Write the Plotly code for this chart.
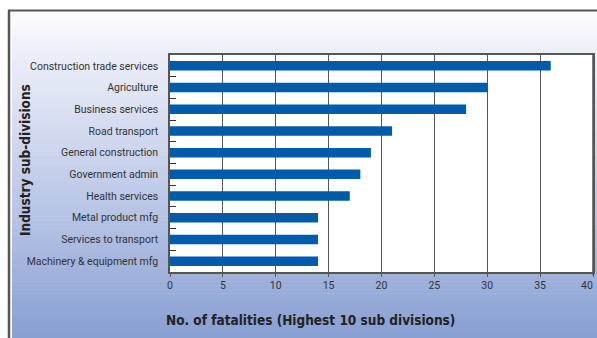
import plotly.graph_objects as go

# Highest 10 industry sub-divisions by number of fatalities
subdivisions = [
    "Construction trade services",
    "Agriculture",
    "Business services",
    "Road transport",
    "General construction",
    "Government admin",
    "Health services",
    "Metal product mfg",
    "Services to transport",
    "Machinery & equipment mfg",
]
fatalities = [36, 30, 28, 21, 19, 18, 17, 14, 14, 14]
x_ticks = [0, 5, 10, 15, 20, 25, 30, 35, 40]

W, H = 597, 338
L, R, T, B = 170, 4, 55, 66
pw, ph = W - L - R, H - T - B


def px_x(x):
    return (x - L) / pw


def px_y(y):
    return (H - B - y) / ph


fig = go.Figure()
fig.add_trace(go.Bar(
    x=fatalities,
    y=subdivisions,
    orientation="h",
    marker=dict(color="#005baa", line=dict(width=0)),
    width=0.44,
    hoverinfo="x+y",
))

# background panel: vertical gradient from near-white to soft blue
stops = [(13, (252, 252, 254)), (55, (236, 238, 248)), (130, (212, 219, 240)),
         (220, (180, 194, 228)), (338, (136, 159, 210))]
shapes = []
n = 80
y0p, y1p = 13, 338
for i in range(n):
    ya = y0p + (y1p - y0p) * i / n
    yb = y0p + (y1p - y0p) * (i + 1) / n
    ym = (ya + yb) / 2
    for (sa, ca), (sb, cb) in zip(stops[:-1], stops[1:]):
        if sa <= ym <= sb:
            t = (ym - sa) / (sb - sa)
            c = tuple(round(ca[k] + (cb[k] - ca[k]) * t) for k in range(3))
            break
    shapes.append(dict(
        type="rect", xref="paper", yref="paper", layer="below",
        x0=px_x(12), x1=px_x(W), y0=px_y(yb + 0.5), y1=px_y(ya),
        fillcolor="rgb(%d,%d,%d)" % c, line=dict(width=0),
    ))
# frame lines on the left and top of the panel
shapes.append(dict(type="line", xref="paper", yref="paper", layer="above",
                   x0=px_x(9), x1=px_x(9), y0=px_y(10.5), y1=px_y(H),
                   line=dict(color="#555555", width=2.5)))
shapes.append(dict(type="line", xref="paper", yref="paper", layer="above",
                   x0=px_x(8), x1=px_x(W), y0=px_y(10.5), y1=px_y(10.5),
                   line=dict(color="#555555", width=2)))
# plot-area white fill
shapes.append(dict(type="rect", xref="paper", yref="paper", layer="below",
                   x0=0, x1=1, y0=0, y1=1, fillcolor="white", line=dict(width=0)))
# right-hand edge of the plot area
shapes.append(dict(type="line", xref="paper", yref="paper", layer="above",
                   x0=1, x1=1, y0=px_y(H - B + 3), y1=1,
                   line=dict(color="#555555", width=1.5)))

tick_font = dict(family="Roboto, Liberation Sans, sans-serif",
                 size=10.5, color="#333333")
title_font = dict(family="DejaVu Sans Condensed, DejaVu Sans, sans-serif",
                  size=13.5, color="#222222")

# the last label is drawn right-aligned to its tick so it stays on the page
x_labels = [str(v) for v in x_ticks]
last_label = x_labels[-1]
x_labels[-1] = ""

fig.update_layout(
    width=W, height=H,
    margin=dict(l=L, r=R, t=T, b=B, pad=0, autoexpand=False),
    paper_bgcolor="white",
    plot_bgcolor="rgba(0,0,0,0)",
    showlegend=False,
    bargap=0.56,
    shapes=shapes,
    xaxis=dict(
        range=[0, 40], tickvals=x_ticks, ticktext=x_labels,
        showgrid=True, gridcolor="#555555", gridwidth=1.3,
        ticks="outside", ticklen=3, tickcolor="#555555",
        showline=True, linecolor="#555555", linewidth=1.5, mirror=True,
        tickfont=tick_font, zeroline=False, fixedrange=True,
        automargin=False,
    ),
    yaxis=dict(
        type="category", categoryorder="array", categoryarray=subdivisions,
        autorange="reversed",
        tickson="boundaries", ticks="inside", ticklen=6, tickcolor="#333333",
        showgrid=False, showline=True, linecolor="#555555", linewidth=1.5,
        mirror=True, tickfont=tick_font, ticklabelstandoff=8, fixedrange=True,
        automargin=False,
    ),
    annotations=[
        dict(text=last_label, xref="x", yref="paper", x=x_ticks[-1], y=0,
             xanchor="right", yanchor="top", xshift=2, yshift=-5,
             showarrow=False, font=tick_font),
        dict(text="<b>No. of fatalities (Highest 10 sub divisions)</b>",
             xref="paper", yref="paper", x=px_x(310), y=px_y(320),
             xanchor="center", yanchor="middle", showarrow=False, font=title_font),
        dict(text="<b>Industry sub-divisions</b>",
             xref="paper", yref="paper", x=px_x(25), y=px_y(160),
             xanchor="center", yanchor="middle", showarrow=False,
             textangle=-90, font=title_font),
    ],
)

fig.write_html("out.html")
